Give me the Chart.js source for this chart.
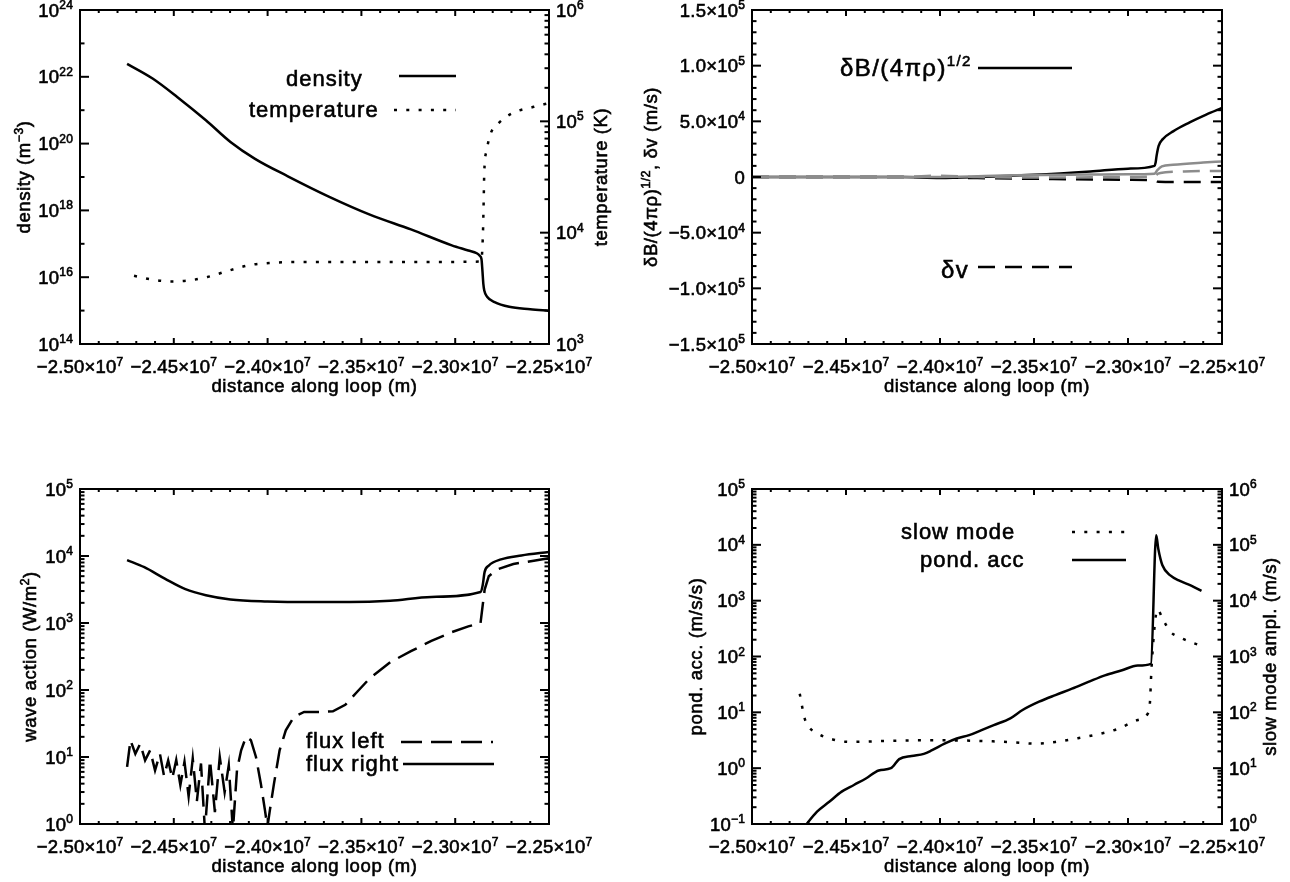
<!DOCTYPE html>
<html>
<head>
<meta charset="utf-8">
<title>loop profiles</title>
<script src="https://cdn.jsdelivr.net/npm/chart.js@4.4.1/dist/chart.umd.min.js"></script>
<style>
  html, body { margin: 0; padding: 0; background: #fff; }
  canvas { position: absolute; left: 0; top: 0; }
</style>
</head>
<body>
<canvas id="pDensity" width="1290" height="882"></canvas>
<canvas id="pVelocity" width="1290" height="882"></canvas>
<canvas id="pWave" width="1290" height="882"></canvas>
<canvas id="pPond" width="1290" height="882"></canvas>
<script>
// ---- axis ticks ----
const xTickVals = [-2.5e7, -2.45e7, -2.4e7, -2.35e7, -2.3e7, -2.25e7];
const xTickLabels = ['−2.50×10^7', '−2.45×10^7', '−2.40×10^7', '−2.35×10^7', '−2.30×10^7', '−2.25×10^7'];
const densTicks = [1e14, 1e16, 1e18, 1e20, 1e22, 1e24];
const densTickLabels = ['10^14', '10^16', '10^18', '10^20', '10^22', '10^24'];
const densMinor = [1e15, 1e17, 1e19, 1e21, 1e23];
const tempTicks = [1e3, 1e4, 1e5, 1e6];
const tempTickLabels = ['10^3', '10^4', '10^5', '10^6'];
const velTicks = [-1.5e5, -1.0e5, -5.0e4, 0, 5.0e4, 1.0e5, 1.5e5];
const velTickLabels = ['−1.5×10^5', '−1.0×10^5', '−5.0×10^4', '0', '5.0×10^4', '1.0×10^5', '1.5×10^5'];
const waveTicks = [1, 10, 100, 1e3, 1e4, 1e5];
const waveTickLabels = ['10^0', '10^1', '10^2', '10^3', '10^4', '10^5'];
const pondTicks = [0.1, 1, 10, 100, 1e3, 1e4, 1e5];
const pondTickLabels = ['10^−1', '10^0', '10^1', '10^2', '10^3', '10^4', '10^5'];
const slowTicks = [1, 10, 100, 1e3, 1e4, 1e5, 1e6];
const slowTickLabels = ['10^0', '10^1', '10^2', '10^3', '10^4', '10^5', '10^6'];

// ---- panel 1: density / temperature ----
const densX = [-2.4749e7, -2.4613e7, -2.4482e7, -2.4329e7, -2.4198e7, -2.4067e7, -2.3892e7, -2.3674e7, -2.3455e7, -2.3236e7, -2.3018e7, -2.2930e7, -2.2885e7, -2.2868e7, -2.2860e7, -2.2855e7, -2.2850e7, -2.2845e7, -2.2830e7, -2.2790e7, -2.2712e7, -2.2600e7, -2.25e7];
const density = [2.45e22, 8.9e21, 2.5e21, 5.0e20, 1.12e20, 3.5e19, 1.05e19, 2.6e18, 7.5e17, 2.7e17, 9.0e16, 6.3e16, 5.2e16, 4.3e16, 3.5e16, 1.6e16, 6.3e15, 4.0e15, 2.6e15, 1.8e15, 1.3e15, 1.1e15, 9.8e14];
const tempX = [-2.4712e7, -2.462e7, -2.452e7, -2.443e7, -2.432e7, -2.42e7, -2.41e7, -2.398e7, -2.385e7, -2.35e7, -2.32e7, -2.2862e7, -2.2852e7, -2.2848e7, -2.2845e7, -2.2832e7, -2.2810e7, -2.2767e7, -2.2692e7, -2.258e7, -2.25e7];
const temperature = [4.1e3, 3.8e3, 3.65e3, 3.7e3, 4.0e3, 4.6e3, 5.1e3, 5.35e3, 5.45e3, 5.45e3, 5.45e3, 5.5e3, 1.0e4, 2.0e4, 3.5e4, 5.5e4, 7.85e4, 9.7e4, 1.19e5, 1.35e5, 1.46e5];

// ---- panel 2: dB/sqrt(4 pi rho), dv ----
const dbX = [-2.5e7, -2.46e7, -2.42e7, -2.40e7, -2.38e7, -2.35e7, -2.32e7, -2.30e7, -2.2859e7, -2.2853e7, -2.2848e7, -2.2837e7, -2.2815e7, -2.2760e7, -2.2672e7, -2.2584e7, -2.25e7];
const dbBlack = [0, 0, 0, -800, 0, 2000, 5000, 7500, 1.0e4, 1.3e4, 1.9e4, 2.8e4, 3.4e4, 4.1e4, 4.9e4, 5.6e4, 6.2e4];
const dbGrayX = [-2.5e7, -2.40e7, -2.36e7, -2.32e7, -2.30e7, -2.2859e7, -2.2845e7, -2.2820e7, -2.2760e7, -2.2600e7, -2.25e7];
const dbGray = [0, 0, 1500, 2200, 2500, 3000, 6000, 9500, 1.1e4, 1.3e4, 1.4e4];
const dvX = [-2.5e7, -2.42e7, -2.38e7, -2.34e7, -2.30e7, -2.2859e7, -2.2840e7, -2.2700e7, -2.25e7];
const dvBlack = [0, 0, -1000, -1800, -2500, -3000, -4200, -4500, -4500];
const dvGrayX = [-2.5e7, -2.42e7, -2.40e7, -2.38e7, -2.34e7, -2.30e7, -2.2859e7, -2.2840e7, -2.2800e7, -2.2700e7, -2.25e7];
const dvGray = [0, 0, 1200, 0, -500, 0, 500, 3000, 4200, 5000, 5500];

// ---- panel 3: wave action ----
const fluxRightX = [-2.4749e7, -2.4657e7, -2.4548e7, -2.4438e7, -2.4329e7, -2.4198e7, -2.4001e7, -2.3783e7, -2.3564e7, -2.3346e7, -2.3127e7, -2.2865e7, -2.2854e7, -2.2843e7, -2.2821e7, -2.2756e7, -2.2647e7, -2.25e7];
const fluxRight = [8.7e3, 6.8e3, 4.6e3, 3.2e3, 2.6e3, 2.25e3, 2.1e3, 2.05e3, 2.05e3, 2.15e3, 2.45e3, 2.9e3, 3.6e3, 5.8e3, 7.2e3, 8.9e3, 1.02e4, 1.15e4];
const fluxLeftX = [-2.4749e7, -2.4731e7, -2.4705e7, -2.4679e7, -2.4653e7, -2.4626e7, -2.4600e7, -2.4574e7, -2.4552e7, -2.4530e7, -2.4508e7, -2.4487e7, -2.4465e7, -2.4443e7, -2.4421e7, -2.4399e7, -2.4377e7, -2.4355e7, -2.4334e7, -2.4307e7, -2.4281e7, -2.4255e7, -2.4229e7, -2.4207e7, -2.4185e7, -2.4163e7, -2.4141e7, -2.4115e7, -2.4089e7, -2.4062e7, -2.4036e7, -2.4014e7, -2.4001e7, -2.3988e7, -2.3966e7, -2.3936e7, -2.3903e7, -2.3859e7, -2.3805e7, -2.3717e7, -2.3652e7, -2.3586e7, -2.3521e7, -2.3455e7, -2.3346e7, -2.3236e7, -2.3127e7, -2.3018e7, -2.2930e7, -2.2865e7, -2.2854e7, -2.2843e7, -2.2821e7, -2.2777e7, -2.2690e7, -2.2581e7, -2.25e7];
const fluxLeft = [7.1, 17.8, 11.2, 15.8, 8.9, 12.6, 6.3, 11.2, 5.2, 8.9, 4.8, 9, 3.8, 8.5, 2.6, 9.5, 2.2, 8, 0.8, 9, 1.5, 10, 3.0, 7.5, 0.8, 6.5, 12.6, 20, 17.8, 10, 4.0, 1.6, 0.9, 1.6, 4.0, 12.6, 25, 40, 47, 47, 48, 60, 95, 150, 260, 380, 540, 730, 890, 1000, 1780, 3160, 5000, 6300, 7600, 8500, 9300];

// ---- panel 4: ponderomotive acceleration / slow mode ----
const pondX = [-2.4753e7, -2.4709e7, -2.4654e7, -2.4589e7, -2.4523e7, -2.4458e7, -2.4392e7, -2.4326e7, -2.4261e7, -2.4217e7, -2.4151e7, -2.4086e7, -2.4042e7, -2.3976e7, -2.3911e7, -2.3845e7, -2.3779e7, -2.3714e7, -2.3626e7, -2.3561e7, -2.3473e7, -2.3386e7, -2.3298e7, -2.3211e7, -2.3123e7, -2.3036e7, -2.2948e7, -2.2878e7, -2.2850e7, -2.2839e7, -2.2817e7, -2.2773e7, -2.2730e7, -2.2664e7, -2.2609e7];
const pondAcc = [0.063, 0.1, 0.166, 0.25, 0.38, 0.5, 0.66, 0.91, 1.0, 1.45, 1.65, 1.8, 2.1, 2.75, 3.4, 3.9, 4.8, 5.9, 7.8, 11, 15.5, 20.4, 26.5, 35, 46, 56, 69, 74, 1.48e4, 8.5e3, 4.3e3, 2.8e3, 2.3e3, 1.86e3, 1.5e3];
const slowX = [-2.4746e7, -2.4735e7, -2.4720e7, -2.4698e7, -2.4654e7, -2.4589e7, -2.4479e7, -2.4261e7, -2.4042e7, -2.3823e7, -2.3604e7, -2.3495e7, -2.3386e7, -2.3276e7, -2.3167e7, -2.3058e7, -2.2948e7, -2.2894e7, -2.2883e7, -2.2876e7, -2.2867e7, -2.2854e7, -2.2843e7, -2.2817e7, -2.2773e7, -2.2730e7, -2.2664e7, -2.2609e7];
const slowMode = [216, 135, 78, 55, 42, 34, 29.5, 31, 31.6, 31, 29, 27.5, 29.5, 34, 40, 50, 73, 96, 155, 525, 1580, 4800, 7000, 4800, 2750, 2250, 1800, 1550];

// ---- look ----
const FONT = '"Liberation Sans", Arial, sans-serif';
const GRAY = '#8c8c8c';
const DOT = [3, 9.3];
const tickFont = { size: 18.5, sup: 12, rise: 7.5, ls: 0.2 };
const titleFont = { size: 18.5, sup: 12, rise: 7, ls: 0.6 };
const legendFont = { size: 22, sup: 14, rise: 9, ls: 1 };
const legendFontBig = { size: 24, sup: 15, rise: 10, ls: 1.4 };

function pts(xs, ys) {
    return xs.map((x, i) => ({ x: x, y: ys[i] }));
}

function split(s) {
    const i = s.indexOf('^');
    return i < 0 ? [[s, 0]] : [[s.slice(0, i), 0], [s.slice(i + 1), 1]];
}

// filled + thin stroke so the text looks as heavy as the IDL strokes
function drawRich(ctx, segs, x, y, f, align) {
    ctx.save();
    ctx.fillStyle = '#000';
    ctx.strokeStyle = '#000';
    ctx.lineWidth = 0.6;
    ctx.setLineDash([]);
    ctx.textAlign = 'left';
    ctx.textBaseline = 'alphabetic';
    ctx.letterSpacing = f.ls + 'px';
    const ws = [];
    let w = 0;
    segs.forEach(([t, sup]) => {
        ctx.font = (sup ? f.sup : f.size) + 'px ' + FONT;
        const m = ctx.measureText(t).width;
        ws.push(m);
        w += m;
    });
    let cx = align === 'center' ? x - w / 2 : align === 'right' ? x - w : x;
    segs.forEach(([t, sup], i) => {
        ctx.font = (sup ? f.sup : f.size) + 'px ' + FONT;
        const ty = sup ? y - f.rise : y;
        ctx.fillText(t, cx, ty);
        ctx.strokeText(t, cx, ty);
        cx += ws[i];
    });
    ctx.restore();
}

function drawVertical(ctx, segs, cx, cy, f) {
    ctx.save();
    ctx.translate(cx, cy);
    ctx.rotate(-Math.PI / 2);
    drawRich(ctx, segs, 0, 6, f, 'center');
    ctx.restore();
}

function seg(ctx, x0, y0, x1, y1) {
    ctx.beginPath();
    ctx.moveTo(x0, y0);
    ctx.lineTo(x1, y1);
    ctx.stroke();
}

function logMinor(lo, hi) {
    const out = [];
    for (let d = Math.floor(Math.log10(lo)); d < Math.log10(hi); d++) {
        for (let k = 2; k <= 9; k++) out.push(k * Math.pow(10, d));
    }
    return out.filter(v => v > lo && v < hi);
}

// IDL-style box: inward ticks on all four sides, labels, titles, legend
function idlAxes(cfg) {
    return {
        id: 'idlAxes',
        afterDatasetsDraw(chart) {
            const ctx = chart.ctx, a = chart.chartArea, sx = chart.scales.x;
            ctx.save();
            ctx.strokeStyle = '#000';
            ctx.lineCap = 'butt';
            ctx.setLineDash([]);
            ctx.lineWidth = 2;

            // x axis
            for (let i = 0; i <= 25; i++) {
                const v = -2.5e7 + i * 1e5;
                const p = sx.getPixelForValue(v);
                const len = i % 5 === 0 ? 6 : 3;
                seg(ctx, p, a.bottom, p, a.bottom - len);
                seg(ctx, p, a.top, p, a.top + len);
            }
            xTickVals.forEach((v, i) => {
                drawRich(ctx, split(xTickLabels[i]), sx.getPixelForValue(v), a.bottom + 29, tickFont, 'center');
            });
            drawRich(ctx, [['distance along loop (m)', 0]], (a.left + a.right) / 2, a.bottom + 48, titleFont, 'center');

            // y axes
            const sides = [['left', cfg.left], ['right', cfg.right || cfg.left]];
            sides.forEach(([side, ax]) => {
                const sc = chart.scales[ax.id];
                const x0 = side === 'left' ? a.left : a.right;
                const dir = side === 'left' ? 1 : -1;
                ctx.lineWidth = 2;
                ax.minor.forEach(v => {
                    const p = sc.getPixelForValue(v);
                    seg(ctx, x0, p, x0 + dir * 4.5, p);
                });
                ax.major.forEach((v, i) => {
                    const p = sc.getPixelForValue(v);
                    ctx.lineWidth = 2;
                    seg(ctx, x0, p, x0 + dir * 9, p);
                    if (side === 'left' || cfg.right) {
                        drawRich(ctx, split(ax.labels[i]), x0 - dir * 7, p + 6.5, tickFont, side === 'left' ? 'right' : 'left');
                    }
                });
            });
            ctx.lineWidth = 2;
            ctx.strokeRect(a.left, a.top, a.right - a.left, a.bottom - a.top);

            const cy = (a.top + a.bottom) / 2;
            drawVertical(ctx, cfg.leftTitle, cfg.leftTitleX, cy, titleFont);
            if (cfg.rightTitle) drawVertical(ctx, cfg.rightTitle, cfg.rightTitleX, cy, titleFont);

            // legend
            cfg.legend.forEach(item => {
                drawRich(ctx, item.text, item.tx, item.ty, item.font || legendFont, 'left');
                ctx.save();
                ctx.lineWidth = 2.5;
                ctx.strokeStyle = '#000';
                ctx.setLineDash(item.dash);
                seg(ctx, item.x0, item.y, item.x1, item.y);
                ctx.restore();
            });
            ctx.restore();
        }
    };
}

function baseOptions(padding, scales) {
    return {
        responsive: false,
        animation: false,
        devicePixelRatio: 1,
        events: [],
        layout: { padding: padding },
        plugins: { legend: { display: false }, tooltip: { enabled: false } },
        elements: {
            point: { radius: 0 },
            line: { borderWidth: 2.5, tension: 0, fill: false, borderCapStyle: 'butt' }
        },
        scales: Object.assign({
            x: { type: 'linear', min: -2.5e7, max: -2.25e7, display: false }
        }, scales)
    };
}

function line(data, color, dash, axis, extra) {
    return Object.assign({
        data: data,
        borderColor: color,
        borderDash: dash || [],
        yAxisID: axis || 'y',
        cubicInterpolationMode: 'monotone'
    }, extra || {});
}

// panel 1
new Chart(document.getElementById('pDensity'), {
    type: 'line',
    data: {
        datasets: [
            line(pts(densX, density), '#000'),
            line(pts(tempX, temperature), '#000', DOT, 'y2')
        ]
    },
    options: baseOptions({ left: 80, right: 741, top: 10, bottom: 538 }, {
        y: { type: 'logarithmic', min: 1e14, max: 1e24, display: false },
        y2: { type: 'logarithmic', min: 1e3, max: 1e6, display: false, position: 'right' }
    }),
    plugins: [idlAxes({
        left: { id: 'y', major: densTicks, labels: densTickLabels, minor: densMinor },
        right: { id: 'y2', major: tempTicks, labels: tempTickLabels, minor: logMinor(1e3, 1e6) },
        leftTitle: [['density (m', 0], ['−3', 1], [')', 0]], leftTitleX: 24,
        rightTitle: [['temperature (K)', 0]], rightTitleX: 601,
        legend: [
            { text: [['density', 0]], tx: 286, ty: 86, x0: 399, x1: 456, y: 76, dash: [] },
            { text: [['temperature', 0]], tx: 249, ty: 117, x0: 394, x1: 456, y: 110, dash: DOT }
        ]
    })]
});

// panel 2
new Chart(document.getElementById('pVelocity'), {
    type: 'line',
    data: {
        datasets: [
            line(pts(dvGrayX, dvGray), GRAY, [17, 10]),
            line(pts(dbGrayX, dbGray), GRAY),
            line(pts(dvX, dvBlack), '#000', [17, 10]),
            line(pts(dbX, dbBlack), '#000')
        ]
    },
    options: baseOptions({ left: 752, right: 68, top: 10, bottom: 538 }, {
        y: { type: 'linear', min: -1.5e5, max: 1.5e5, display: false }
    }),
    plugins: [idlAxes({
        left: { id: 'y', major: velTicks, labels: velTickLabels, minor: [-1.4e5, -1.3e5, -1.2e5, -1.1e5, -9e4, -8e4, -7e4, -6e4, -4e4, -3e4, -2e4, -1e4, 1e4, 2e4, 3e4, 4e4, 6e4, 7e4, 8e4, 9e4, 1.1e5, 1.2e5, 1.3e5, 1.4e5] },
        leftTitle: [['δB/(4πρ)', 0], ['1/2', 1], [', δv (m/s)', 0]], leftTitleX: 651,
        legend: [
            { text: [['δB/(4πρ)', 0], ['1/2', 1]], tx: 840, ty: 76, x0: 978, x1: 1072, y: 68, dash: [], font: legendFontBig },
            { text: [['δv', 0]], tx: 941, ty: 278, x0: 978, x1: 1072, y: 267, dash: [17, 10], font: legendFontBig }
        ]
    })]
});

// panel 3
new Chart(document.getElementById('pWave'), {
    type: 'line',
    data: {
        datasets: [
            line(pts(fluxLeftX, fluxLeft), '#000', [21, 9], 'y', { cubicInterpolationMode: 'default' }),
            line(pts(fluxRightX, fluxRight), '#000')
        ]
    },
    options: baseOptions({ left: 80, right: 741, top: 489, bottom: 58 }, {
        y: { type: 'logarithmic', min: 1, max: 1e5, display: false }
    }),
    plugins: [idlAxes({
        left: { id: 'y', major: waveTicks, labels: waveTickLabels, minor: logMinor(1, 1e5) },
        leftTitle: [['wave action (W/m', 0], ['2', 1], [')', 0]], leftTitleX: 30,
        legend: [
            { text: [['flux left', 0]], tx: 306, ty: 748, x0: 401, x1: 493, y: 742, dash: [21, 9] },
            { text: [['flux right', 0]], tx: 306, ty: 771, x0: 403, x1: 494, y: 764, dash: [] }
        ]
    })]
});

// panel 4
new Chart(document.getElementById('pPond'), {
    type: 'line',
    data: {
        datasets: [
            line(pts(slowX, slowMode), '#000', DOT, 'y2'),
            line(pts(pondX, pondAcc), '#000')
        ]
    },
    options: baseOptions({ left: 752, right: 68, top: 489, bottom: 58 }, {
        y: { type: 'logarithmic', min: 0.1, max: 1e5, display: false },
        y2: { type: 'logarithmic', min: 1, max: 1e6, display: false, position: 'right' }
    }),
    plugins: [idlAxes({
        left: { id: 'y', major: pondTicks, labels: pondTickLabels, minor: logMinor(0.1, 1e5) },
        right: { id: 'y2', major: slowTicks, labels: slowTickLabels, minor: logMinor(1, 1e6) },
        leftTitle: [['pond. acc. (m/s/s)', 0]], leftTitleX: 696,
        rightTitle: [['slow mode ampl. (m/s)', 0]], rightTitleX: 1270,
        legend: [
            { text: [['slow mode', 0]], tx: 901, ty: 539, x0: 1072, x1: 1126, y: 532, dash: DOT },
            { text: [['pond. acc', 0]], tx: 920, ty: 567, x0: 1072, x1: 1126, y: 560, dash: [] }
        ]
    })]
});
</script>
</body>
</html>
